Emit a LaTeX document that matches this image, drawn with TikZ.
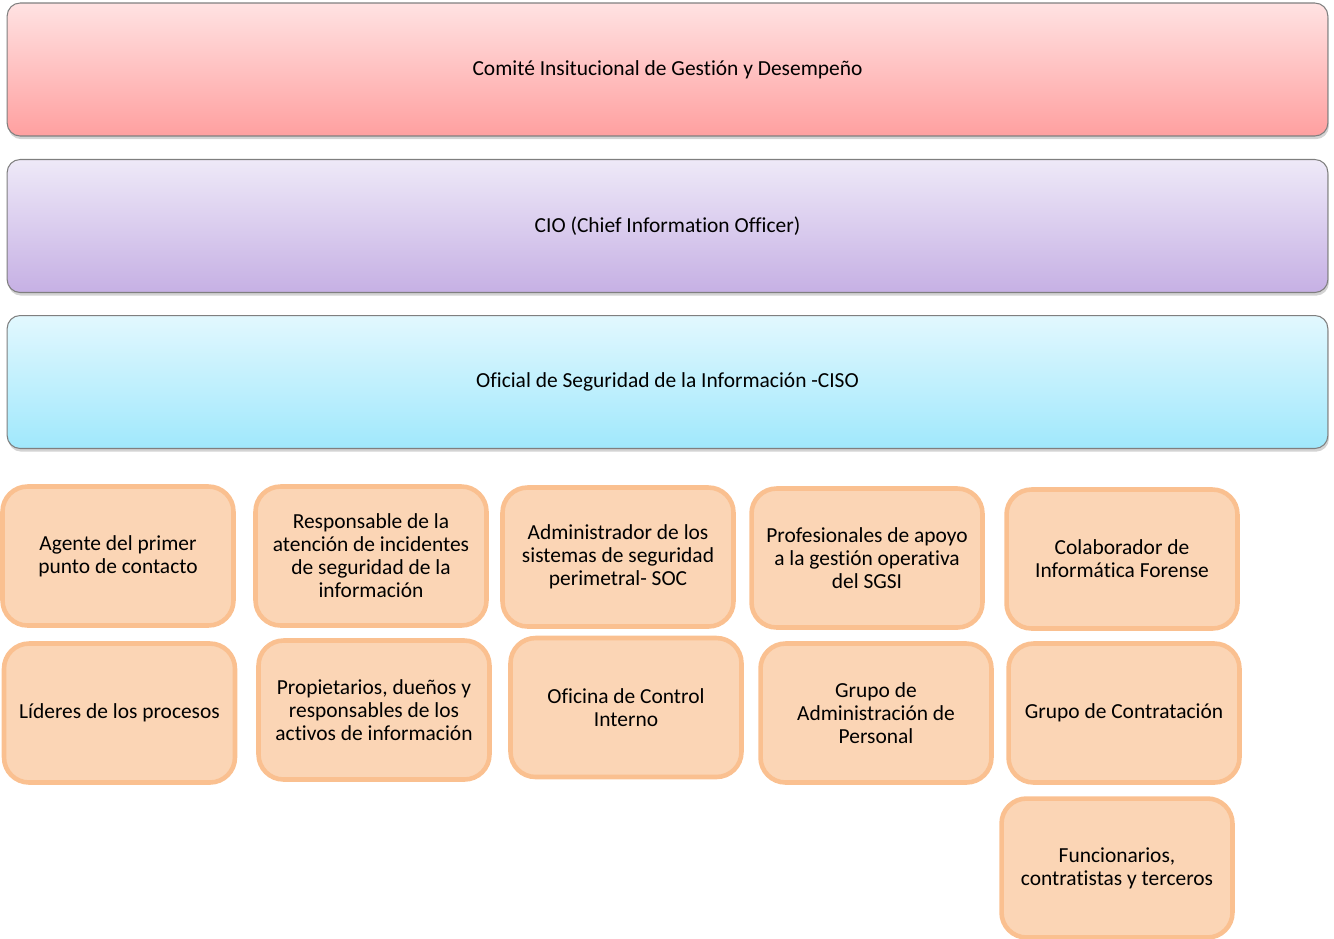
\documentclass[tikz,border=0pt]{standalone}
\usepackage{fontspec}
\setmainfont{Carlito}[Ligatures=NoCommon]
\usetikzlibrary{shadows}
\definecolor{Frame}{HTML}{7F7F7F}
\definecolor{RoseTop}{HTML}{FFE2E2}
\definecolor{RoseBottom}{HTML}{FFA0A0}
\definecolor{LilacTop}{HTML}{EEE9F8}
\definecolor{LilacBottom}{HTML}{C6B0E4}
\definecolor{SkyTop}{HTML}{E2F8FE}
\definecolor{SkyBottom}{HTML}{A0E8FC}
\definecolor{Peach}{HTML}{FBD5B5}
\definecolor{PeachEdge}{HTML}{FAC090}
\tikzset{
  tier/.style={
    rounded corners=0.26cm, draw=Frame, line width=0.6pt,
    minimum width=26.42cm, minimum height=2.66cm, align=center,
    font=\fontsize{12.2}{13.1}\selectfont,
    drop shadow={shadow xshift=0.6pt, shadow yshift=-1.8pt, opacity=0.35}
  },
  role/.style={
    rounded corners=0.5cm, draw=PeachEdge, line width=2.6pt, fill=Peach,
    minimum width=4.62cm, minimum height=2.78cm, align=center,
    font=\fontsize{12.2}{13.1}\selectfont
  }
}
\begin{document}
\begin{tikzpicture}[x=0.02cm,y=-0.02cm]
    \useasboundingbox (0,0) rectangle (1334,938);
    \node[tier,top color=RoseTop,bottom color=RoseBottom] (comite) at (667.5,69.5) {Comité Insitucional de Gestión y Desempeño};
    \node[tier,top color=LilacTop,bottom color=LilacBottom] (cio) at (667.5,226) {CIO (Chief Information Officer)};
    \node[tier,top color=SkyTop,bottom color=SkyBottom] (ciso) at (667.5,382) {Oficial de Seguridad de la Información -CISO};
    \node[role] (agente) at (118,556) {Agente del primer\\punto de contacto};
    \node[role] (incidentes) at (371,556) {Responsable de la\\atención de incidentes\\de seguridad de la\\información};
    \node[role] (soc) at (618,557) {Administrador de los\\sistemas de seguridad\\perimetral- SOC};
    \node[role] (sgsi) at (867,558) {Profesionales de apoyo\\a la gestión operativa\\del SGSI};
    \node[role] (forense) at (1122,559) {Colaborador de\\Informática Forense};
    \node[role] (lideres) at (119.5,713) {Líderes de los procesos};
    \node[role] (propietarios) at (374,710) {Propietarios, dueños y\\responsables de los\\activos de información};
    \node[role] (control) at (626,707.5) {Oficina de Control\\Interno};
    \node[role] (personal) at (876,713) {Grupo de\\Administración de\\Personal};
    \node[role] (contratacion) at (1124,713) {Grupo de Contratación};
    \node[role] (funcionarios) at (1117,868) {Funcionarios,\\contratistas y terceros};
  \end{tikzpicture}
\end{document}
